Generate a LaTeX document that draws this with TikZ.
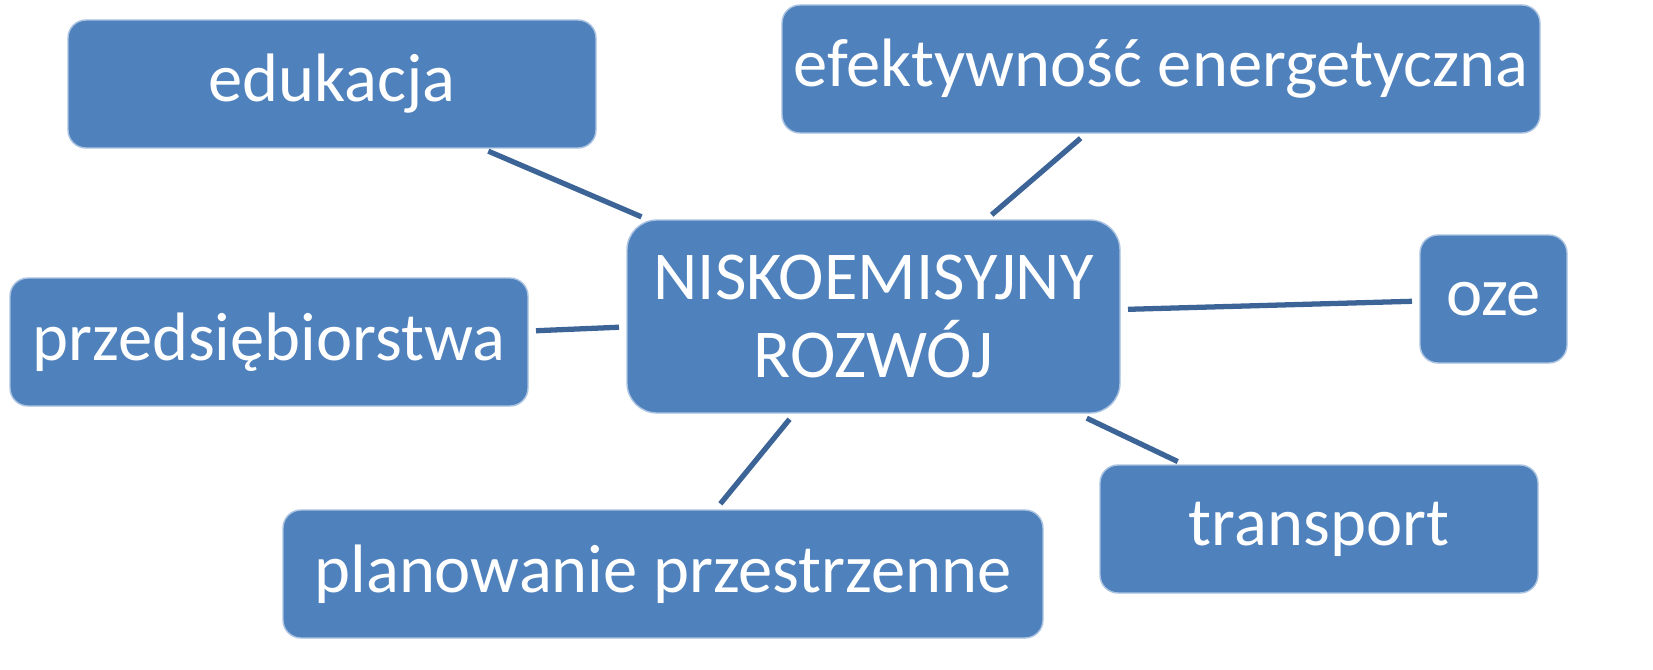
\documentclass[tikz,border=0pt]{standalone}
\usepackage{fontspec}
\setmainfont{Carlito}
\definecolor{BoxFill}{RGB}{79,129,189}
\definecolor{BoxEdge}{RGB}{170,195,225}
\definecolor{LinkLine}{RGB}{60,100,150}
\tikzset{
    topic/.style={
        rectangle, rounded corners=0.18cm, fill=BoxFill, draw=BoxEdge,
        line width=0.4pt, inner sep=0pt, outer sep=0pt, text=white,
        font=\fontsize{19.5}{22.3}\selectfont, align=center
    },
    hubbox/.style={topic, rounded corners=0.3cm},
    link/.style={
        draw=LinkLine, line width=1.5pt,
        shorten <=0.08cm, shorten >=0.08cm
    }
}
\begin{document}
\begin{tikzpicture}

\useasboundingbox (0,0) rectangle (16.53,6.69);

% Nodo central.
\node[hubbox, minimum width=4.93cm, minimum height=1.93cm] (hub) at (8.735, 3.525) {NISKOEMISYJNY\\ROZWÓJ};

% Temas alrededor del nodo central.
\node[topic, minimum width=5.28cm, minimum height=1.28cm] (edu) at (3.32, 5.85) {edukacja};
\node[topic, minimum width=7.58cm, minimum height=1.28cm] (efek) at (11.61, 6.00) {efektywność energetyczna};
\node[topic, minimum width=1.47cm, minimum height=1.28cm] (oze) at (14.935, 3.70) {oze};
\node[topic, minimum width=5.18cm, minimum height=1.28cm] (przed) at (2.69, 3.27) {przedsiębiorstwa};
\node[topic, minimum width=4.38cm, minimum height=1.28cm] (trans) at (13.19, 1.40) {transport};
\node[topic, minimum width=7.60cm, minimum height=1.28cm] (plan) at (6.63, 0.95) {planowanie przestrzenne};

% Unir el nodo central con cada tema.
\draw[link] (hub) -- (edu);
\draw[link] (hub) -- (efek);
\draw[link] (hub) -- (oze);
\draw[link] (hub) -- (przed);
\draw[link, shorten <=0.12cm] (hub) -- (trans);
\draw[link] (hub) -- (plan);

\end{tikzpicture}
\end{document}
